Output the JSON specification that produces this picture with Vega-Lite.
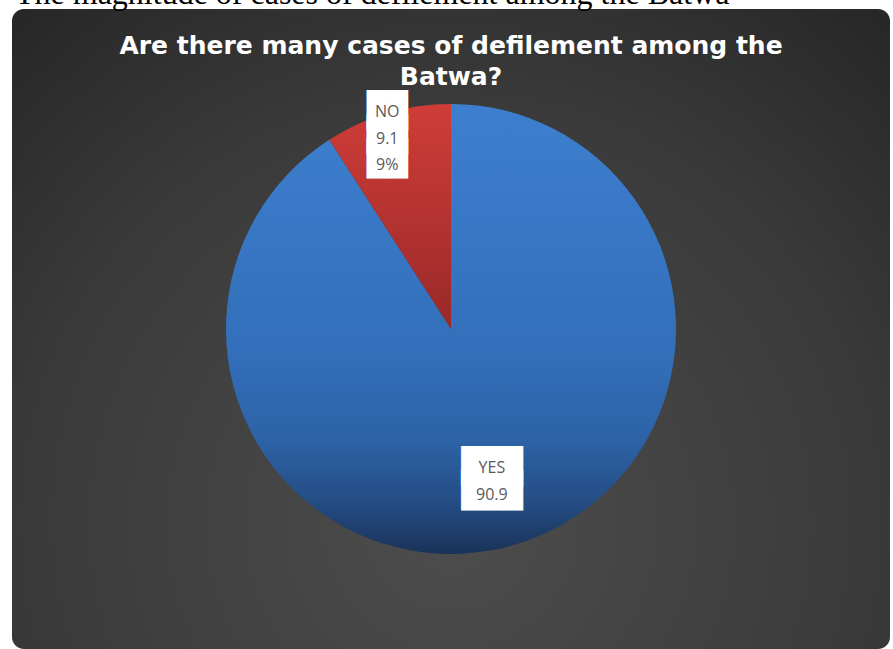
{
  "$schema": "https://vega.github.io/schema/vega-lite/v6.json",
  "width": 878,
  "height": 640,
  "autosize": {"type": "none"},
  "padding": {"left": 12, "top": 9, "right": 3, "bottom": 0},
  "background": "white",
  "title": {
    "text": "The magnitude of cases of defilement among the Batwa",
    "anchor": "start",
    "frame": "group",
    "dx": 3,
    "dy": 27,
    "offset": 0,
    "font": "Liberation Serif",
    "fontSize": 32,
    "fontWeight": "normal",
    "color": "black",
    "baseline": "alphabetic",
    "zindex": 1
  },
  "config": {
    "view": {"stroke": null}
  },
  "data": {
    "values": [
      {"answer": "YES", "value": 90.9, "label": ["YES", "90.9"]},
      {"answer": "NO", "value": 9.1, "label": ["NO", "9.1", "9%"]}
    ]
  },
  "layer": [
    {
      "data": {"values": [{}]},
      "mark": {
        "type": "rect",
        "cornerRadius": 12,
        "color": {
          "gradient": "radial",
          "x1": 0.5, "y1": 0.72, "r1": 0,
          "x2": 0.5, "y2": 0.72, "r2": 0.8,
          "stops": [
            {"offset": 0, "color": "#4d4d4d"},
            {"offset": 0.6, "color": "#3a3a3a"},
            {"offset": 1, "color": "#242424"}
          ]
        }
      },
      "encoding": {}
    },
    {
      "mark": {"type": "arc", "outerRadius": 225, "stroke": null},
      "encoding": {
        "theta": {"field": "value", "type": "quantitative", "stack": true},
        "order": {"field": "value", "type": "quantitative", "sort": "descending"},
        "detail": {"field": "answer", "type": "nominal"},
        "color": {
          "condition": {
            "test": "datum.answer === 'NO'",
            "value": {
              "gradient": "linear", "x1": 0, "y1": 0, "x2": 0, "y2": 1,
              "stops": [
                {"offset": 0, "color": "#cf3d38"},
                {"offset": 1, "color": "#992928"}
              ]
            }
          },
          "value": {
            "gradient": "linear", "x1": 0, "y1": 0, "x2": 0, "y2": 1,
            "stops": [
              {"offset": 0, "color": "#3d7fcf"},
              {"offset": 0.55, "color": "#336fba"},
              {"offset": 0.75, "color": "#2d62a6"},
              {"offset": 0.88, "color": "#244e85"},
              {"offset": 1, "color": "#1a3358"}
            ]
          }
        }
      }
    },
    {
      "mark": {
        "type": "text",
        "font": "DejaVu Sans Mono",
        "fontSize": 34,
        "lineHeight": 24,
        "fill": "white",
        "align": "center",
        "baseline": "middle"
      },
      "encoding": {
        "theta": {"field": "value", "type": "quantitative", "stack": true},
        "order": {"field": "value", "type": "quantitative", "sort": "descending"},
        "detail": {"field": "answer", "type": "nominal"},
        "radius": {"field": "value", "type": "quantitative", "scale": {"type": "linear", "zero": false, "domain": [9.1, 90.9], "range": [226, 145]}},
        "text": {
          "condition": {"test": "datum.answer === 'NO'", "value": ["██", "██", "██"]},
          "value": ["███", "███"]
        }
      }
    },
    {
      "mark": {
        "type": "text",
        "font": "Open Sans",
        "fontSize": 16,
        "lineHeight": 26.5,
        "fill": "#595959",
        "align": "center",
        "baseline": "middle"
      },
      "encoding": {
        "theta": {"field": "value", "type": "quantitative", "stack": true},
        "order": {"field": "value", "type": "quantitative", "sort": "descending"},
        "detail": {"field": "answer", "type": "nominal"},
        "radius": {"field": "value", "type": "quantitative"},
        "text": {"field": "label"}
      }
    },
    {
      "data": {"values": [{"q": ["Are there many cases of defilement among the", "Batwa?"]}]},
      "mark": {
        "type": "text",
        "font": "DejaVu Sans",
        "fontWeight": "bold",
        "fontSize": 25,
        "lineHeight": 31,
        "fill": "white",
        "align": "center",
        "baseline": "middle"
      },
      "encoding": {
        "theta": {"datum": 0, "type": "quantitative"},
        "radius": {"value": 283},
        "text": {"field": "q"}
      }
    }
  ]
}
